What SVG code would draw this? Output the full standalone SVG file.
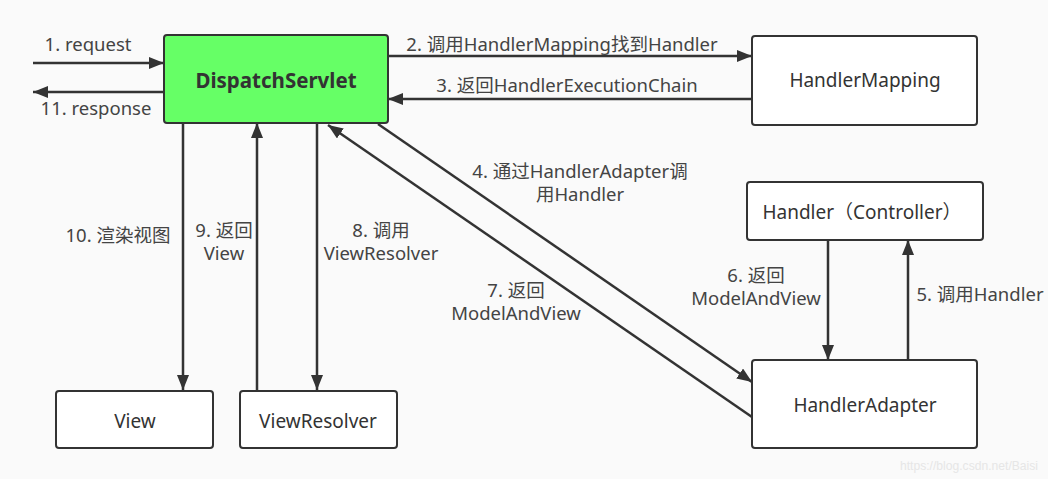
<svg xmlns="http://www.w3.org/2000/svg" width="1048" height="479" viewBox="0 0 1048 479">
<defs>
<marker id="ah" markerUnits="userSpaceOnUse" markerWidth="16" markerHeight="12" viewBox="0 0 16 12" refX="15" refY="6" orient="auto">
<path d="M0,0 L15,6 L0,12 z" fill="#333"/>
</marker>
<style>
.box{fill:#fff;stroke:#333;stroke-width:2}
.main{fill:#66ff66;stroke:#333;stroke-width:2}
.t{font-family:"Noto Sans","Noto Sans CJK SC",sans-serif;font-size:19px;fill:#333;text-anchor:middle;dominant-baseline:central}
.lb{font-family:"Noto Sans","Noto Sans CJK SC",sans-serif;font-size:18.5px;fill:#444;text-anchor:middle;dominant-baseline:central}
.c{stroke:#333;stroke-width:2.5;fill:none;marker-end:url(#ah)}
.wm{font-family:"Liberation Sans",sans-serif;font-size:12px;fill:#e6e6e6}
</style>
</defs>
<rect width="1048" height="479" fill="#fafafa"/>
<g id="connectors">
<line class="c" x1="33" y1="63" x2="164" y2="63"/>
<line class="c" x1="164" y1="92" x2="33" y2="92"/>
<line class="c" x1="388" y1="56" x2="752" y2="56"/>
<line class="c" x1="752" y1="99" x2="388" y2="99"/>
<line class="c" x1="378" y1="124" x2="752" y2="382"/>
<line class="c" x1="752" y1="417" x2="328" y2="125"/>
<line class="c" x1="828" y1="240" x2="828" y2="360"/>
<line class="c" x1="908" y1="360" x2="908" y2="240"/>
<line class="c" x1="183" y1="123" x2="183" y2="390"/>
<line class="c" x1="257" y1="390" x2="257" y2="123"/>
<line class="c" x1="317" y1="123" x2="317" y2="390"/>
<text class="lb" x="88" y="43">1. request</text>
<text class="lb" x="96" y="107">11. response</text>
<text class="lb" x="562" y="43">2. 调用HandlerMapping找到Handler</text>
<text class="lb" x="567" y="84">3. 返回HandlerExecutionChain</text>
<text class="lb" x="580" y="170">4. 通过HandlerAdapter调</text>
<text class="lb" x="580" y="193">用Handler</text>
<text class="lb" x="980" y="293">5. 调用Handler</text>
<text class="lb" x="756" y="274">6. 返回</text>
<text class="lb" x="756" y="297">ModelAndView</text>
<text class="lb" x="516" y="289">7. 返回</text>
<text class="lb" x="516" y="312">ModelAndView</text>
<text class="lb" x="381" y="229">8. 调用</text>
<text class="lb" x="381" y="252">ViewResolver</text>
<text class="lb" x="224" y="229">9. 返回</text>
<text class="lb" x="224" y="252">View</text>
<text class="lb" x="118" y="234">10. 渲染视图</text>
</g>
<g id="dispatchServlet">
<rect class="main" x="164" y="35" width="224" height="88" rx="3"/>
<text class="t" x="276" y="80" style="font-weight:bold;font-size:20.5px">DispatchServlet</text>
</g>
<g id="handlerMapping">
<rect class="box" x="752" y="36" width="225" height="89" rx="3"/>
<text class="t" x="865" y="80">HandlerMapping</text>
</g>
<g id="handler">
<rect class="box" x="747" y="182" width="236" height="58" rx="3"/>
<text class="t" x="862" y="212">Handler（Controller）</text>
</g>
<g id="handlerAdapter">
<rect class="box" x="752" y="360" width="225" height="88" rx="3"/>
<text class="t" x="865" y="405">HandlerAdapter</text>
</g>
<g id="view">
<rect class="box" x="56" y="391" width="157" height="57" rx="3"/>
<text class="t" x="135" y="421">View</text>
</g>
<g id="viewResolver">
<rect class="box" x="240" y="391" width="157" height="57" rx="3"/>
<text class="t" x="318" y="421">ViewResolver</text>
</g>
<text class="wm" x="900" y="470" textLength="138" lengthAdjust="spacingAndGlyphs">https://blog.csdn.net/Baisi</text>
</svg>
